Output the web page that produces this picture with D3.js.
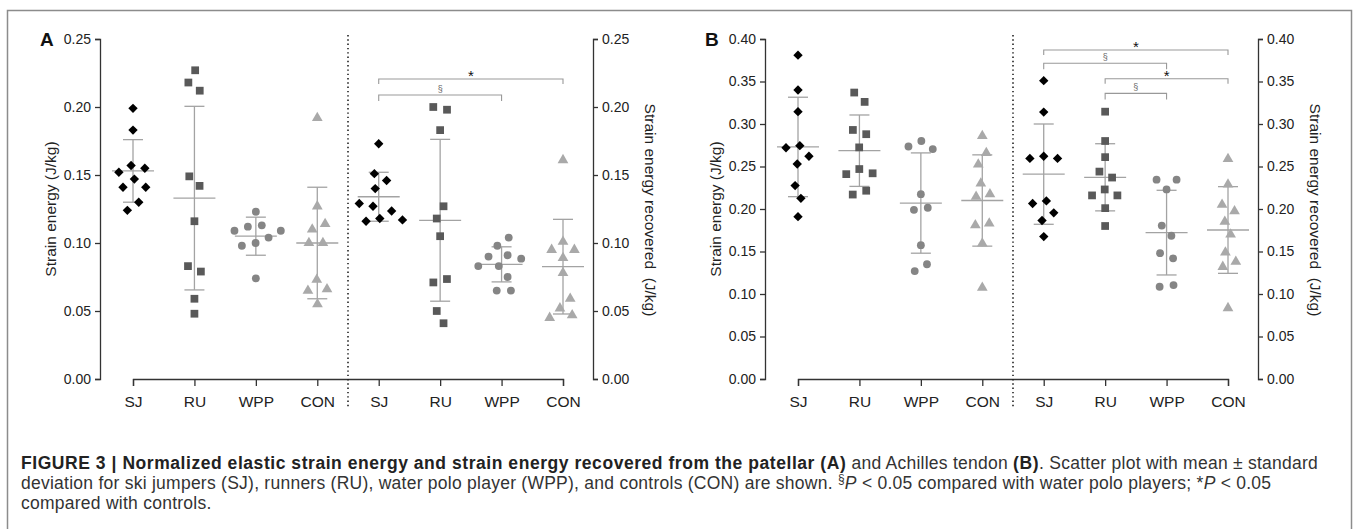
<!DOCTYPE html>
<meta charset="utf-8">
<style>
body { margin: 0; background: #fff; }
svg { font-family: "Liberation Sans", Arial, sans-serif; }
.axis path, .axis line { stroke: #333; stroke-width: 1.3px; }
.axis text { fill: #222; font-size: 14px; }
.xaxis text { font-size: 15.5px; }
.caption { font-size: 17.5px; fill: #333; letter-spacing: 0.25px; }
.caption .b { font-weight: bold; fill: #222; letter-spacing: 0.55px; }
</style>
<svg width="1358" height="529"></svg>
<script src="https://d3js.org/d3.v7.min.js"></script>
<script>
var svg = d3.select("svg");

// groups, in plotting order
var groups = ["SJ", "RU", "WPP", "CON"];

// A - patellar tendon, strain energy (J/kg)
var patStrainSJ  = [0.199, 0.183, 0.157, 0.155, 0.152, 0.147, 0.141, 0.141, 0.130, 0.124];
var patStrainRU  = [0.227, 0.218, 0.212, 0.149, 0.142, 0.116, 0.083, 0.079, 0.059, 0.048];
var patStrainWPP = [0.123, 0.113, 0.112, 0.109, 0.109, 0.104, 0.100, 0.098, 0.074];
var patStrainCON = [0.192, 0.127, 0.114, 0.110, 0.100, 0.100, 0.073, 0.066, 0.065, 0.055];
var patStrainMean = [0.153, 0.133, 0.105, 0.100];
var patStrainSD   = [0.023, 0.0675, 0.014, 0.041];

// A - patellar tendon, strain energy recovered (J/kg)
var patRecSJ  = [0.173, 0.151, 0.146, 0.140, 0.129, 0.127, 0.1235, 0.118, 0.117, 0.116];
var patRecRU  = [0.200, 0.198, 0.183, 0.127, 0.118, 0.105, 0.0735, 0.071, 0.050, 0.041];
var patRecWPP = [0.104, 0.098, 0.091, 0.090, 0.0885, 0.083, 0.083, 0.075, 0.065, 0.065];
var patRecCON = [0.161, 0.101, 0.095, 0.095, 0.089, 0.078, 0.059, 0.052, 0.047, 0.045];
var patRecMean = [0.134, 0.1167, 0.0843, 0.0826];
var patRecSD   = [0.018, 0.0595, 0.0129, 0.0348];

// B - Achilles tendon, strain energy (J/kg)
var achStrainSJ  = [0.381, 0.340, 0.3145, 0.2745, 0.272, 0.262, 0.253, 0.2275, 0.2125, 0.191];
var achStrainRU  = [0.337, 0.326, 0.293, 0.288, 0.2725, 0.247, 0.242, 0.241, 0.2215, 0.217];
var achStrainWPP = [0.280, 0.2735, 0.2705, 0.2175, 0.2015, 0.199, 0.1575, 0.135, 0.127];
var achStrainCON = [0.286, 0.266, 0.2525, 0.230, 0.2175, 0.2145, 0.183, 0.181, 0.1595, 0.1075];
var achStrainMean = [0.273, 0.2686, 0.207, 0.210];
var achStrainSD   = [0.0585, 0.042, 0.059, 0.0537];

// B - Achilles tendon, strain energy recovered (J/kg)
var achRecSJ  = [0.351, 0.314, 0.262, 0.2595, 0.2595, 0.2095, 0.2065, 0.1955, 0.1865, 0.1675];
var achRecRU  = [0.3145, 0.280, 0.261, 0.244, 0.237, 0.223, 0.216, 0.216, 0.201, 0.180];
var achRecWPP = [0.2345, 0.2345, 0.223, 0.1805, 0.1685, 0.148, 0.142, 0.1105, 0.1085];
var achRecCON = [0.259, 0.229, 0.205, 0.1975, 0.185, 0.170, 0.149, 0.138, 0.132, 0.0835];
var achRecMean = [0.241, 0.2373, 0.1722, 0.1753];
var achRecSD   = [0.059, 0.0395, 0.0498, 0.051];

// y axis ticks
var ticksA = [0, 0.05, 0.10, 0.15, 0.20, 0.25];
var ticksB = [0, 0.05, 0.10, 0.15, 0.20, 0.25, 0.30, 0.35, 0.40];

// significance brackets on the "recovered" side (group index from/to, level in J/kg)
var sigA = [
  {from: 0, to: 3, level: 0.2206, label: "*"},
  {from: 0, to: 2, level: 0.2088, label: "§"}
];
var sigB = [
  {from: 0, to: 3, level: 0.387, label: "*"},
  {from: 0, to: 2, level: 0.3714, label: "§"},
  {from: 1, to: 3, level: 0.3533, label: "*"},
  {from: 1, to: 2, level: 0.336, label: "§"}
];

var panels = [
  {name: "A", dx: 0, ticks: ticksA, sig: sigA,
   left:  {values: [patStrainSJ, patStrainRU, patStrainWPP, patStrainCON], mean: patStrainMean, sd: patStrainSD},
   right: {values: [patRecSJ, patRecRU, patRecWPP, patRecCON], mean: patRecMean, sd: patRecSD}},
  {name: "B", dx: 665, ticks: ticksB, sig: sigB,
   left:  {values: [achStrainSJ, achStrainRU, achStrainWPP, achStrainCON], mean: achStrainMean, sd: achStrainSD},
   right: {values: [achRecSJ, achRecRU, achRecWPP, achRecCON], mean: achRecMean, sd: achRecSD}}
];

// marker style per group
var markerFill = ["#000", "#595959", "#858585", "#a9a9a9"];
var markerType = [d3.symbolSquare, d3.symbolSquare, d3.symbolCircle, d3.symbolTriangle];
var markerSize = [44, 60, 48, 50];
var markerRot  = [45, 0, 0, 0];
var barColor = "#a3a3a3";

// outer frame
svg.append("rect")
  .attr("x", 7.5).attr("y", 10.5)
  .attr("width", 1344).attr("height", 600)
  .attr("fill", "none").attr("stroke", "#8c8c8c").attr("stroke-width", 1.5);

var allNodes = [];

panels.forEach(function(p) {
  var g = svg.append("g");
  var keys = [];
  ["L", "R"].forEach(function(h) { groups.forEach(function(k) { keys.push(h + "-" + k); }); });

  var x = d3.scalePoint().domain(keys).range([133 + p.dx, 563 + p.dx]);
  var y = d3.scaleLinear().domain([0, d3.max(p.ticks)]).range([379, 39]);
  var leftX = 100 + p.dx, rightX = 593 + p.dx;

  // left y axis
  g.append("g").attr("class", "axis")
    .attr("transform", "translate(" + leftX + ",0)")
    .call(d3.axisLeft(y).tickValues(p.ticks).tickFormat(d3.format(".2f")).tickSizeOuter(0).tickSize(5).tickPadding(4));
  // right y axis
  g.append("g").attr("class", "axis")
    .attr("transform", "translate(" + rightX + ",0)")
    .call(d3.axisRight(y).tickValues(p.ticks).tickFormat(d3.format(".2f")).tickSizeOuter(0).tickSize(5).tickPadding(4));
  // x axis
  g.append("g").attr("class", "axis xaxis")
    .attr("transform", "translate(0,379)")
    .call(d3.axisBottom(x).tickSizeOuter(0).tickSize(7).tickPadding(10).tickFormat(function(d) { return d.split("-")[1]; }));

  // panel letter
  g.append("text").attr("x", leftX - 60).attr("y", 46)
    .attr("font-size", 19).attr("font-weight", "bold").attr("fill", "#111").text(p.name);

  // axis titles
  g.append("text")
    .attr("transform", "translate(" + (leftX - 50) + ",209) rotate(-90)")
    .attr("text-anchor", "middle").attr("dominant-baseline", "central")
    .attr("font-size", 15.5).attr("fill", "#222")
    .text("Strain energy (J/kg)");
  g.append("text")
    .attr("transform", "translate(" + (rightX + 57) + ",210) rotate(90)")
    .attr("text-anchor", "middle").attr("dominant-baseline", "central")
    .attr("font-size", 15.5).attr("fill", "#222").style("white-space", "pre")
    .text("Strain energy recovered  (J/kg)");

  // dotted divider
  var midX = (x("L-CON") + x("R-SJ")) / 2;
  g.append("line")
    .attr("x1", midX).attr("x2", midX).attr("y1", 35).attr("y2", 408)
    .attr("stroke", "#222").attr("stroke-width", 1.6).attr("stroke-dasharray", "1.4,2.9");

  // mean +- SD bars
  [["L", p.left], ["R", p.right]].forEach(function(s) {
    var h = s[0], d = s[1];
    groups.forEach(function(k, i) {
      var cx = x(h + "-" + k);
      var m = d.mean[i], sd = d.sd[i];
      var eb = g.append("g").attr("stroke", barColor).attr("stroke-width", 1.3);
      eb.append("line").attr("x1", cx).attr("x2", cx).attr("y1", y(m - sd)).attr("y2", y(m + sd));
      eb.append("line").attr("x1", cx - 10).attr("x2", cx + 10).attr("y1", y(m + sd)).attr("y2", y(m + sd));
      eb.append("line").attr("x1", cx - 10).attr("x2", cx + 10).attr("y1", y(m - sd)).attr("y2", y(m - sd));
      eb.append("line").attr("x1", cx - 21).attr("x2", cx + 21).attr("y1", y(m)).attr("y2", y(m));

      d.values[i].forEach(function(v) {
        allNodes.push({cx: cx, x: cx, y: y(v), fy: y(v), gi: i, layer: g});
      });
    });
  });

  // significance brackets
  p.sig.forEach(function(s) {
    var x1 = x("R-" + groups[s.from]), x2 = x("R-" + groups[s.to]);
    var yy = y(s.level);
    var star = s.label === "*";
    var drop = star ? 5 : 6;
    g.append("path")
      .attr("d", "M" + x1 + "," + (yy + drop) + "V" + yy + "H" + x2 + "V" + (yy + drop))
      .attr("fill", "none").attr("stroke", "#999").attr("stroke-width", 1.1);
    g.append("text")
      .attr("x", (x1 + x2) / 2).attr("y", star ? yy + 2 : yy - 3)
      .attr("text-anchor", "middle")
      .attr("font-size", star ? 15 : 9)
      .attr("fill", star ? "#111" : "#666")
      .text(s.label);
  });
});

// spread points sideways so they do not overlap (beeswarm)
var simulation = d3.forceSimulation(allNodes)
  .force("x", d3.forceX(function(d) { return d.cx; }).strength(0.04))
  .force("collide", d3.forceCollide(7))
  .stop();
for (var i = 0; i < 300; i++) simulation.tick();

allNodes.forEach(function(d) {
  d.layer.append("path")
    .attr("d", d3.symbol().type(markerType[d.gi]).size(markerSize[d.gi])())
    .attr("transform", "translate(" + d.x + "," + d.fy + ") rotate(" + markerRot[d.gi] + ")")
    .attr("fill", markerFill[d.gi]);
});

// caption
var cap = svg.append("text").attr("class", "caption").attr("x", 21).attr("y", 469);
cap.append("tspan").attr("class", "b")
  .text("FIGURE 3 | Normalized elastic strain energy and strain energy recovered from the patellar (A)");
cap.append("tspan").text(" and Achilles tendon ");
cap.append("tspan").attr("class", "b").text("(B)");
cap.append("tspan").text(". Scatter plot with mean \u00b1 standard");

var cap2 = svg.append("text").attr("class", "caption").attr("x", 21).attr("y", 489);
cap2.append("tspan").text("deviation for ski jumpers (SJ), runners (RU), water polo player (WPP), and controls (CON) are shown. ");
cap2.append("tspan").attr("font-size", 12).attr("dy", -6).text("§");
cap2.append("tspan").attr("font-style", "italic").attr("dy", 6).text("P");
cap2.append("tspan").text(" < 0.05 compared with water polo players; *");
cap2.append("tspan").attr("font-style", "italic").text("P");
cap2.append("tspan").text(" < 0.05");

svg.append("text").attr("class", "caption").attr("x", 21).attr("y", 509)
  .text("compared with controls.");
</script>
